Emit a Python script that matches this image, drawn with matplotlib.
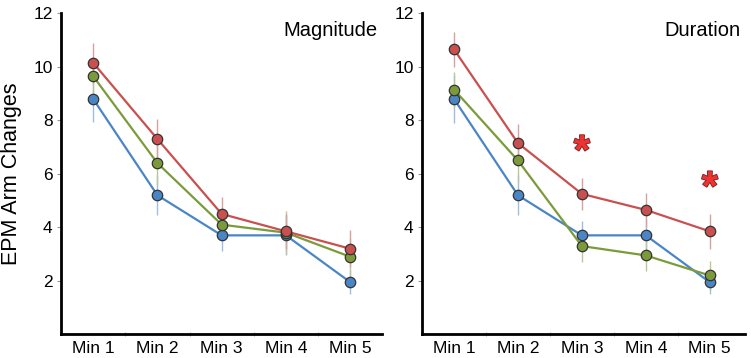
import numpy as np
import matplotlib.pyplot as plt
import matplotlib.patheffects as pe

plt.rcParams['font.family'] = ['Liberation Sans', 'DejaVu Sans']

minutes = ["Min 1", "Min 2", "Min 3", "Min 4", "Min 5"]

# Magnitude panel
mag_red = [10.15, 7.3, 4.5, 3.85, 3.2]
mag_green = [9.65, 6.4, 4.1, 3.8, 2.9]
mag_blue = [8.8, 5.2, 3.7, 3.7, 1.95]
mag_red_err = [0.75, 0.75, 0.65, 0.65, 0.7]
mag_green_err = [0.7, 0.8, 0.55, 0.8, 0.7]
mag_blue_err = [0.85, 0.75, 0.6, 0.75, 0.45]

# Duration panel
dur_red = [10.65, 7.15, 5.25, 4.65, 3.85]
dur_green = [9.15, 6.5, 3.3, 2.95, 2.2]
dur_blue = [8.8, 5.2, 3.7, 3.7, 1.95]
dur_red_err = [0.65, 0.7, 0.6, 0.65, 0.65]
dur_green_err = [0.65, 0.8, 0.6, 0.6, 0.55]
dur_blue_err = [0.9, 0.75, 0.55, 0.6, 0.45]

# significance marks (Duration)
star_idx = [2, 4]
star_y = [7.2, 5.85]

red = "#c9504f"
green = "#7b9b3b"
blue = "#4a86c6"
red_e = "#d9a0a0"
green_e = "#b9c79a"
blue_e = "#9fbde0"


def panel(ax, series, title, xmax):
    x = np.arange(len(minutes))
    for vals, err, c, ce in series:
        ax.errorbar(x, vals, yerr=err, fmt='none', ecolor=ce, elinewidth=1.0, capsize=0, zorder=1)
    for vals, err, c, ce in series:
        ax.plot(x, vals, '-', color=c, lw=1.6, zorder=2)
        ax.plot(x, vals, 'o', color=c, mec='#333333', mew=0.9, ms=7.5, zorder=3)
    ax.set_xlim(-0.5, xmax)
    ax.set_ylim(0, 12)
    ax.set_yticks([2, 4, 6, 8, 10, 12])
    ax.set_xticks(x)
    ax.set_xticklabels(minutes)
    ax.set_xticks(x[:-1] + 0.5, minor=True)
    ax.tick_params(axis='x', which='major', length=0, labelsize=12.5, pad=5)
    ax.tick_params(axis='x', which='minor', length=3, direction='inout', color='#999999')
    ax.tick_params(axis='y', length=3, color='#999999', labelsize=12.5, pad=3)
    for s in ['top', 'right']:
        ax.spines[s].set_visible(False)
    for s in ['left', 'bottom']:
        ax.spines[s].set_linewidth(2)
    ax.text(0.985, 0.975, title, transform=ax.transAxes, ha='right', va='top', fontsize=14.5)


fig = plt.figure(figsize=(7.51, 3.58), dpi=100)
ax1 = fig.add_axes([0.0812, 0.066, 0.428, 0.897])
ax2 = fig.add_axes([0.5619, 0.066, 0.43, 0.897])

panel(ax1, [(mag_blue, mag_blue_err, blue, blue_e),
            (mag_green, mag_green_err, green, green_e),
            (mag_red, mag_red_err, red, red_e)], "Magnitude", 4.5)
panel(ax2, [(dur_blue, dur_blue_err, blue, blue_e),
            (dur_green, dur_green_err, green, green_e),
            (dur_red, dur_red_err, red, red_e)], "Duration", 4.55)

for i, yv in zip(star_idx, star_y):
    ax2.annotate("*", xy=(i, yv), xytext=(0, -8), textcoords='offset points',
                 ha='center', va='center', fontsize=30, fontweight='bold',
                 color='#ee3333', path_effects=[pe.withStroke(linewidth=1.2, foreground='#772222')])

ax1.set_ylabel("EPM Arm Changes", fontsize=15.5, labelpad=8)

fig.savefig("out.png", dpi=100)
